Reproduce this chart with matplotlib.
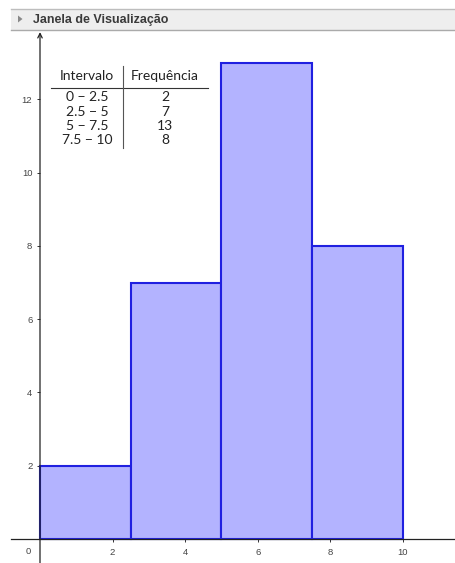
import matplotlib
matplotlib.use("Agg")
import matplotlib.pyplot as plt
from matplotlib.patches import Rectangle, Polygon
from matplotlib.lines import Line2D

# Data
edges = [0, 2.5, 5, 7.5, 10]
freqs = [2, 7, 13, 8]
interval_labels = ["0 \u2212 2.5", "2.5 \u2212 5", "5 \u2212 7.5", "7.5 \u2212 10"]
x_ticks = [2, 4, 6, 8, 10]
y_ticks = [2, 4, 6, 8, 10, 12]
title = "Janela de Visualização"

W, H = 456, 563
fig = plt.figure(figsize=(W / 100, H / 100), dpi=100)

# Axes region in pixels
left_px, right_px, top_px, bottom_px = 11, 456, 31, 563
ax = fig.add_axes([left_px / W, 1 - bottom_px / H, (right_px - left_px) / W, (bottom_px - top_px) / H])
x0_px, xsc = 40, 36.3
y0_px, ysc = 539, 36.64
ymax = (y0_px - top_px) / ysc
ymin = (y0_px - bottom_px) / ysc
xmin = (left_px - x0_px) / xsc
xmax = (right_px - x0_px) / xsc
ax.set_xlim(xmin, xmax)
ax.set_ylim(ymin, ymax)

for s in ax.spines.values():
    s.set_visible(False)

# Bars
widths = [edges[i + 1] - edges[i] for i in range(len(freqs))]
ax.bar(edges[:-1], freqs, width=widths, align="edge", color="#b3b3ff",
       edgecolor="#2020e0", linewidth=1.5, zorder=2)

# Axes lines
ax.plot([xmin, xmax], [0, 0], color="#222222", lw=0.9, zorder=3, clip_on=False)
ax.annotate("", xy=(0, ymax - 0.03), xytext=(0, ymin),
            arrowprops=dict(arrowstyle="->", lw=0.9, color="#222222",
                            mutation_scale=8, shrinkA=0, shrinkB=0), zorder=3)

# Ticks
ax.set_xticks(x_ticks)
ax.set_yticks(y_ticks)
ax.tick_params(axis='x', direction='out', length=2.5, width=0.7, color="#333333",
               labelsize=6.8, labelcolor="#444444", pad=4)
ax.tick_params(axis='y', direction='out', length=2.5, width=0.7, color="#333333",
               labelsize=6.8, labelcolor="#444444", pad=3)
ax.spines['left'].set_position(('data', 0))
ax.spines['bottom'].set_position(('data', 0))
for t in ax.get_xticklabels() + ax.get_yticklabels():
    t.set_family("Liberation Sans")
ax.text(-0.31, -0.33, "0", fontsize=6.8, color="#444444", ha="center", va="center",
        family="Liberation Sans")

# Header bar
fig.patches.append(Rectangle((11 / W, 1 - 30 / H), (W - 11) / W, 21 / H,
                             transform=fig.transFigure, facecolor="#eeeeee",
                             edgecolor="none", zorder=0))
fig.lines.append(Line2D([11 / W, 1], [1 - 9 / H] * 2, transform=fig.transFigure,
                        color="#bdbdbd", lw=1))
fig.lines.append(Line2D([11 / W, 1], [1 - 30 / H] * 2, transform=fig.transFigure,
                        color="#aaaaaa", lw=1))
fig.patches.append(Polygon([[18 / W, 1 - 15.5 / H], [18 / W, 1 - 22.5 / H], [22.5 / W, 1 - 19 / H]],
                           closed=True, transform=fig.transFigure, facecolor="#888888",
                           edgecolor="none"))
fig.text(33 / W, 1 - 19.5 / H, title, fontsize=9.0, fontweight="bold", color="#3a3a3a",
         family="Liberation Sans", va="center", ha="left")

# Table
tfont = "Lato"
fs = 10
fig.text(87 / W, 1 - 76 / H, "Intervalo", fontsize=fs, color="#222222",
         family=tfont, ha="center", va="center")
fig.text(165 / W, 1 - 76 / H, "Frequência", fontsize=fs, color="#222222",
         family=tfont, ha="center", va="center")
fig.lines.append(Line2D([51 / W, 208 / W], [1 - 87.5 / H] * 2, transform=fig.transFigure,
                        color="#333333", lw=0.8))
fig.lines.append(Line2D([123 / W, 123 / W], [1 - 66 / H, 1 - 148 / H], transform=fig.transFigure,
                        color="#555555", lw=0.8))
row_y = [97, 111.5, 126, 140]
for yy, lab, f in zip(row_y, interval_labels, freqs):
    fig.text(87 / W, 1 - yy / H, lab, fontsize=fs, color="#222222",
             family=tfont, ha="center", va="center")
    fig.text(165 / W, 1 - yy / H, str(f), fontsize=fs, color="#222222",
             family=tfont, ha="center", va="center")

fig.savefig("out.png", dpi=100)
